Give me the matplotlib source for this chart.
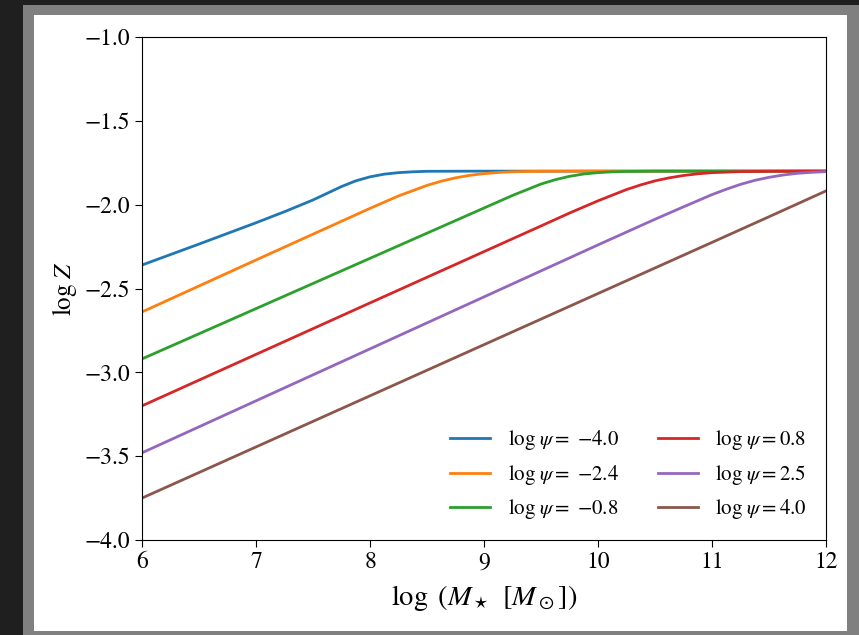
import matplotlib
matplotlib.use("Agg")
import matplotlib.pyplot as plt
from matplotlib.patches import Rectangle

plt.rcParams['mathtext.fontset'] = 'stix'
plt.rcParams['font.family'] = ['STIXGeneral', 'DejaVu Serif']

# log psi of each curve
log_psi = [-4.0, -2.4, -0.8, 0.8, 2.5, 4.0]

# values: (log M_star, log Z) for each curve,
# sampled more densely around the bend
mass_m40 = [6.0, 6.5, 7.0, 7.25, 7.5, 7.625, 7.75, 7.875, 8.0, 8.125, 8.25, 8.375,
            8.5, 9.0, 10.0, 11.0, 12.0]
logz_m40 = [-2.36, -2.235, -2.108, -2.042, -1.972, -1.932, -1.892, -1.858, -1.834,
            -1.818, -1.809, -1.804, -1.801, -1.80, -1.80, -1.80, -1.80]

mass_m24 = [6.0, 7.0, 8.0, 8.25, 8.5, 8.625, 8.75, 8.875, 9.0, 9.125, 9.25, 9.5,
            10.0, 11.0, 12.0]
logz_m24 = [-2.64, -2.33, -2.022, -1.948, -1.885, -1.86, -1.84, -1.825, -1.815,
            -1.808, -1.804, -1.801, -1.80, -1.80, -1.80]

mass_m08 = [6.0, 7.0, 8.0, 9.0, 9.25, 9.5, 9.625, 9.75, 9.875, 10.0, 10.125,
            10.25, 10.5, 11.0, 12.0]
logz_m08 = [-2.92, -2.62, -2.32, -2.02, -1.945, -1.877, -1.851, -1.831, -1.817,
            -1.809, -1.804, -1.802, -1.80, -1.80, -1.80]

mass_p08 = [6.0, 7.0, 8.0, 9.0, 9.5, 9.75, 10.0, 10.25, 10.375, 10.5, 10.625,
            10.75, 10.875, 11.0, 11.25, 11.5, 12.0]
logz_p08 = [-3.20, -2.893, -2.586, -2.28, -2.127, -2.05, -1.977, -1.91, -1.882,
            -1.858, -1.84, -1.826, -1.816, -1.809, -1.803, -1.801, -1.80]

mass_p25 = [6.0, 7.0, 8.0, 9.0, 10.0, 10.5, 10.75, 11.0, 11.125, 11.25, 11.375,
            11.5, 11.625, 11.75, 11.875, 12.0]
logz_p25 = [-3.48, -3.17, -2.86, -2.55, -2.24, -2.087, -2.013, -1.94, -1.908,
            -1.879, -1.855, -1.837, -1.823, -1.813, -1.807, -1.803]

mass_p40 = [6.0, 7.0, 8.0, 9.0, 10.0, 11.0, 11.5, 11.75, 12.0]
logz_p40 = [-3.75, -3.445, -3.14, -2.835, -2.53, -2.225, -2.072, -1.995, -1.918]

masses = [mass_m40, mass_m24, mass_m08, mass_p08, mass_p25, mass_p40]
logzs = [logz_m40, logz_m24, logz_m08, logz_p08, logz_p25, logz_p40]


def psi_label(v):
    if v < 0:
        return r'$\log\,\psi{=}\ {-}%.1f$' % abs(v)
    return r'$\log\,\psi{=}%.1f$' % v


fig = plt.figure(figsize=(8.59, 6.35), dpi=100, facecolor='#1f1f1f')
# grey frame + white page behind the plot
fig.patches.append(Rectangle((23 / 859, 0), 1, 630 / 635, transform=fig.transFigure,
                             facecolor='#808080', edgecolor='none', zorder=-2))
fig.patches.append(Rectangle((34 / 859, 4 / 635), 813 / 859, 616 / 635,
                             transform=fig.transFigure, facecolor='white',
                             edgecolor='none', zorder=-1))

ax = fig.add_axes([142 / 859, 95 / 635, 684 / 859, 503 / 635])

for i in range(len(log_psi)):
    ax.plot(masses[i], logzs[i], color='C%d' % i, lw=2, label=psi_label(log_psi[i]))

ax.set_xlim(6, 12)
ax.set_ylim(-4.0, -1.0)
ax.set_xticks(range(6, 13))
ax.set_yticks([-4.0, -3.5, -3.0, -2.5, -2.0, -1.5, -1.0])
ax.tick_params(labelsize=17, length=5)
ax.set_xlabel(r'$\log\ (M_\star\ \,[M_\odot])$', fontsize=20.5, labelpad=7)
ax.set_ylabel(r'$\log\, Z$', fontsize=18)

ax.legend(loc='lower right', ncol=2, frameon=False, fontsize=15,
          handlelength=1.9, handletextpad=0.85, columnspacing=1.9,
          labelspacing=0.5)

fig.savefig('out.png', dpi=100, facecolor=fig.get_facecolor())
